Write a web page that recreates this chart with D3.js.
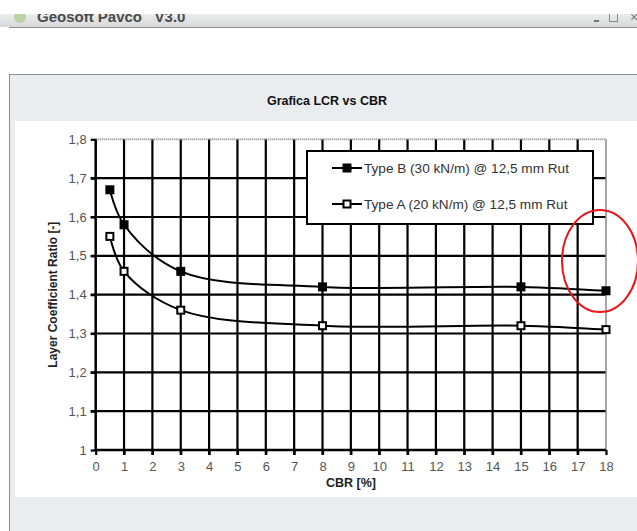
<!DOCTYPE html>
<html><head><meta charset="utf-8">
<script src="https://cdn.jsdelivr.net/npm/d3@7"></script>
<style>html,body{margin:0;padding:0;background:#fff;overflow:hidden}</style>
</head><body>
<script>
const cbr = [0.5, 1, 3, 8, 15, 18];
const typeB = [1.67, 1.58, 1.46, 1.42, 1.42, 1.41];
const typeA = [1.55, 1.46, 1.36, 1.32, 1.32, 1.31];
const seriesNames = ["Type B (30 kN/m) @ 12,5 mm Rut", "Type A (20 kN/m) @ 12,5 mm Rut"];
const xTicks = d3.range(0, 19, 1);
const yTicks = [1, 1.1, 1.2, 1.3, 1.4, 1.5, 1.6, 1.7, 1.8];
const title = "Grafica LCR vs CBR";
const xTitle = "CBR [%]";
const yTitle = "Layer Coefficient Ratio [-]";
const windowTitle = "Geosoft Pavco   V3.0";

const W = 637, H = 531;
const svg = d3.select("body").append("svg").attr("width", W).attr("height", H)
  .style("font-family", "Arial, 'Liberation Sans', sans-serif");

// window chrome
const grad = svg.append("defs").append("linearGradient").attr("id","tb").attr("x1",0).attr("x2",0).attr("y1",0).attr("y2",1);
grad.append("stop").attr("offset","0%").attr("stop-color","#ececec");
grad.append("stop").attr("offset","100%").attr("stop-color","#d6d8da");
svg.select("defs").append("clipPath").attr("id","tbclip").append("rect").attr("x",0).attr("y",14).attr("width",W).attr("height",13);
svg.append("rect").attr("x",0).attr("y",14).attr("width",W).attr("height",13).attr("fill","url(#tb)");
svg.append("line").attr("x1",9).attr("x2",W).attr("y1",27.5).attr("y2",27.5).attr("stroke","#8a8f94").attr("stroke-width",1);
const tbg = svg.append("g").attr("clip-path","url(#tbclip)");
tbg.append("circle").attr("cx",20).attr("cy",17).attr("r",6).attr("fill","#b9d3a6");
tbg.append("text").attr("x",37).attr("y",22).attr("font-size",15).attr("font-weight","bold").attr("fill","#4a4a4a").attr("xml:space","preserve").text(windowTitle);
tbg.append("rect").attr("x",594).attr("y",20).attr("width",5).attr("height",2).attr("fill","#777");
tbg.append("rect").attr("x",609.5).attr("y",13.5).attr("width",8).attr("height",8).attr("fill","none").attr("stroke","#888");
tbg.append("text").attr("x",630).attr("y",22).attr("font-size",14).attr("fill","#777").text("×");

// panel
svg.append("rect").attr("x",9.5).attr("y",74.5).attr("width",W).attr("height",H).attr("fill","#e9edf0").attr("stroke","#8f8f8f");
svg.append("rect").attr("x",15).attr("y",121).attr("width",W).attr("height",376).attr("fill","#fff");
svg.append("text").attr("x",327).attr("y",105).attr("text-anchor","middle").attr("font-size",12.5).attr("font-weight","bold").attr("fill","#111").text(title);

const x = d3.scaleLinear().domain([0,18]).range([95.7,606]);
const y = d3.scaleLinear().domain([1,1.8]).range([450,139.3]);

// grid
const g = svg.append("g");
g.selectAll(".vg").data(xTicks.slice(1,-1)).join("line")
  .attr("x1",d=>x(d)).attr("x2",d=>x(d)).attr("y1",y(1.8)).attr("y2",y(1)+5)
  .attr("stroke","#000").attr("stroke-width",2.2);
g.selectAll(".hg").data(yTicks.slice(1,-1)).join("line")
  .attr("x1",x(0)-5).attr("x2",x(18)).attr("y1",d=>y(d)).attr("y2",d=>y(d))
  .attr("stroke","#000").attr("stroke-width",2.2);
g.append("line").attr("x1",x(0)).attr("x2",x(18)).attr("y1",y(1.8)).attr("y2",y(1.8)).attr("stroke","#888").attr("stroke-width",2).attr("stroke-dasharray","1,1");
g.append("line").attr("x1",x(18)).attr("x2",x(18)).attr("y1",y(1.8)).attr("y2",y(1)).attr("stroke","#888").attr("stroke-width",1.5);

// axes
const yAxis = d3.axisLeft(y).tickValues(yTicks).tickSize(5).tickPadding(4)
  .tickFormat(d => d3.format(".1~f")(d).replace(".", ","));
const xAxis = d3.axisBottom(x).tickValues(xTicks).tickSize(5).tickPadding(7).tickFormat(d3.format("d"));
const ya = svg.append("g").attr("transform",`translate(${x(0)},0)`).call(yAxis);
const xa = svg.append("g").attr("transform",`translate(0,${y(1)})`).call(xAxis);
[ya, xa].forEach(a => {
  a.select(".domain").attr("stroke","#000").attr("stroke-width",2.5);
  a.selectAll(".tick line").attr("stroke","#000").attr("stroke-width",2.2);
  a.selectAll(".tick text").attr("fill","#555").attr("font-size",13).attr("font-family","Arial, 'Liberation Sans', sans-serif");
});
ya.select(".domain").attr("d",`M0,${y(1.8)}V${y(1)}`);
xa.select(".domain").attr("d",`M${x(0)},0H${x(18)}`);

// titles
svg.append("text").attr("transform",`translate(57,${(y(1)+y(1.8))/2}) rotate(-90)`).attr("text-anchor","middle")
  .attr("font-size",12).attr("font-weight","bold").attr("fill","#222").text(yTitle);
svg.append("text").attr("x",351).attr("y",487).attr("text-anchor","middle")
  .attr("font-size",12.5).attr("font-weight","bold").attr("fill","#222").text(xTitle);

// lines
const line = d3.line().x(d=>x(d[0])).y(d=>y(d[1])).curve(d3.curveCatmullRom.alpha(0.5));
const dataB = cbr.map((c,i)=>[c,typeB[i]]);
const dataA = cbr.map((c,i)=>[c,typeA[i]]);
[dataB, dataA].forEach(d => svg.append("path").attr("d",line(d)).attr("fill","none").attr("stroke","#000").attr("stroke-width",2));
svg.selectAll(".mb").data(dataB).join("rect")
  .attr("x",d=>x(d[0])-4.5).attr("y",d=>y(d[1])-4.5).attr("width",9).attr("height",9).attr("fill","#000");
svg.selectAll(".ma").data(dataA).join("rect")
  .attr("x",d=>x(d[0])-3.5).attr("y",d=>y(d[1])-3.5).attr("width",7).attr("height",7).attr("fill","#fff").attr("stroke","#000").attr("stroke-width",2);

// legend
const lg = svg.append("g");
lg.append("rect").attr("x",307).attr("y",151).attr("width",286).attr("height",73).attr("fill","#fff").attr("stroke","#000").attr("stroke-width",2);
const rows = [168, 204];
seriesNames.forEach((n,i) => {
  lg.append("line").attr("x1",332).attr("x2",362).attr("y1",rows[i]).attr("y2",rows[i]).attr("stroke","#000").attr("stroke-width",2);
  if (i===0) lg.append("rect").attr("x",342.5).attr("y",rows[i]-4.5).attr("width",9).attr("height",9).attr("fill","#000");
  else lg.append("rect").attr("x",343.5).attr("y",rows[i]-3.5).attr("width",7).attr("height",7).attr("fill","#fff").attr("stroke","#000").attr("stroke-width",2);
  lg.append("text").attr("x",364).attr("y",rows[i]+5).attr("font-size",13.6).attr("fill","#333").text(n);
});

// red annotation ellipse
svg.append("ellipse").attr("cx",600).attr("cy",261).attr("rx",38).attr("ry",51).attr("fill","none").attr("stroke","#e8161b").attr("stroke-width",2);
</script>
</body></html>
